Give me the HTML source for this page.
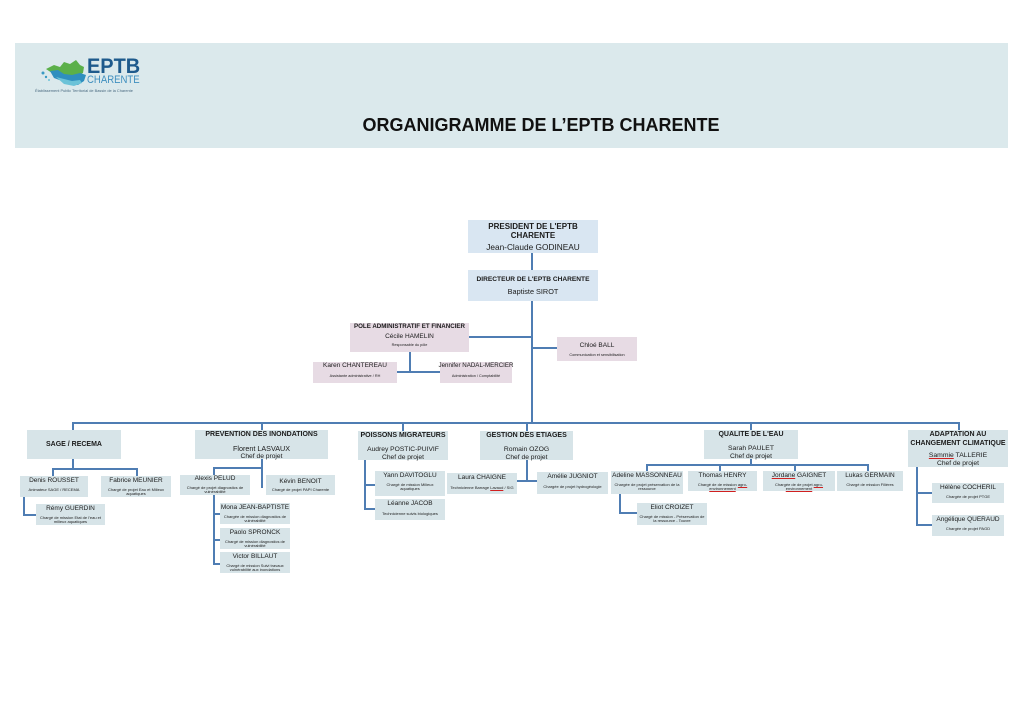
<!DOCTYPE html>
<html><head><meta charset="utf-8">
<style>
*{margin:0;padding:0}
body{width:1024px;height:724px;background:#fff;position:relative;overflow:hidden;font-family:"Liberation Sans",sans-serif;color:#1b1b1b}
.hdr{position:absolute;left:15px;top:43px;width:993px;height:105px;background:#dbe9ec}
.bx{position:absolute;background:#d7e4e8;text-align:center;box-sizing:border-box;display:flex;flex-direction:column;align-items:center}
.bl{background:#d9e6f2}
.pk{background:#e7dbe4}
.t{font-weight:bold;white-space:nowrap}
.lt{font-weight:bold;font-size:7px;line-height:10px;white-space:nowrap}
.ln{font-size:7.2px;line-height:9px;margin-top:4px;white-space:nowrap}
.lc{font-size:6.7px;line-height:7px;white-space:nowrap}
.sb{padding-top:1px}
.sn{font-size:6.5px;line-height:8px;white-space:nowrap}
.sd{font-size:4px;line-height:4.4px;margin-top:2.5px;padding:0 2px}
.u{text-decoration:underline;text-decoration-color:#d02020}
</style></head><body>
<div class="hdr"></div>
<svg style="position:absolute;left:0;top:0" width="1024" height="724">
 <!-- logo blob -->
 <g transform="translate(4,7)">
 <path d="M42,62 L50,58 L56,60 L60,55 L66,57 L72,53 L76,58 L80,60 L79,66 L75,68 L70,70 L62,70 L55,67 L48,66 Z" fill="#5bb04a"/>
 <path d="M46,64 L54,63 L60,67 L68,68 L76,66 L82,68 L80,74 L74,78 L66,77 L58,74 L50,71 Z" fill="#2f8fbf"/>
 <path d="M52,70 L60,72 L68,74 L76,73 L78,76 L70,79 L60,77 Z" fill="#6cc3d8"/>
 <circle cx="39" cy="66" r="1.5" fill="#3a9ac4"/><circle cx="42" cy="70" r="1.2" fill="#3a9ac4"/><circle cx="45" cy="73" r="1" fill="#6cc3d8"/>
 </g>
 <g stroke="#4f7db3" stroke-width="2" fill="none">
  <line x1="532" y1="253" x2="532" y2="270"/>
  <line x1="532" y1="301" x2="532" y2="423"/>
  <line x1="469" y1="337" x2="532" y2="337"/>
  <line x1="532" y1="348" x2="557" y2="348"/>
  <line x1="410" y1="352" x2="410" y2="372"/>
  <line x1="397" y1="372" x2="440" y2="372"/>
  <polyline points="73,430 73,423 959,423 959,430"/>
  <line x1="262" y1="423" x2="262" y2="430"/>
  <line x1="403" y1="423" x2="403" y2="431"/>
  <line x1="527" y1="423" x2="527" y2="431"/>
  <line x1="751" y1="423" x2="751" y2="430"/>
  <!-- SAGE -->
  <line x1="73" y1="459" x2="73" y2="469"/>
  <polyline points="53,476 53,469 137,469 137,476"/>
  <polyline points="24,497 24,515 36,515"/>
  <!-- PREVENTION -->
  <line x1="262" y1="459" x2="262" y2="488"/>
  <polyline points="214,475 214,468 262,468"/>
  <line x1="214" y1="495" x2="214" y2="565"/>
  <line x1="214" y1="514" x2="220" y2="514"/>
  <line x1="214" y1="540" x2="220" y2="540"/>
  <line x1="214" y1="564" x2="220" y2="564"/>
  <!-- POISSONS -->
  <polyline points="365,460 365,509 375,509"/>
  <line x1="365" y1="485" x2="375" y2="485"/>
  <!-- GESTION -->
  <line x1="527" y1="460" x2="527" y2="481"/>
  <line x1="517" y1="481" x2="537" y2="481"/>
  <!-- QUALITE -->
  <line x1="751" y1="459" x2="751" y2="465"/>
  <polyline points="647,471 647,465 868,465 868,471"/>
  <line x1="720" y1="465" x2="720" y2="471"/>
  <line x1="795" y1="465" x2="795" y2="471"/>
  <polyline points="620,494 620,513 637,513"/>
  <!-- ADAPT -->
  <polyline points="917,467 917,525 932,525"/>
  <line x1="917" y1="493" x2="932" y2="493"/>
 </g>
</svg>
<div style="position:absolute;left:87px;top:55px;font-weight:bold;font-size:21px;line-height:24px;color:#1e5a8c;transform:scaleX(0.95);transform-origin:0 0">EPTB</div>
<div style="position:absolute;left:87px;top:74px;font-size:11px;line-height:12px;color:#3f8fbf;transform:scaleX(0.87);transform-origin:0 0;white-space:nowrap">CHARENTE</div>
<div style="position:absolute;left:35px;top:88.5px;font-size:3.9px;line-height:4px;color:#4a6a80;white-space:nowrap">Établissement Public Territorial de Bassin de la Charente</div>
<div style="position:absolute;left:342px;top:116px;width:398px;text-align:center;font-weight:bold;font-size:18px;line-height:18px;color:#111;white-space:nowrap">ORGANIGRAMME DE L’EPTB CHARENTE</div>

<!-- top -->
<div class="bx bl" style="left:468px;top:220px;width:130px;height:33px;padding-top:2px">
 <div class="t" style="font-size:8px;line-height:9px">PRESIDENT DE L'EPTB<br>CHARENTE</div>
 <div style="font-size:8.3px;line-height:14px;white-space:nowrap">Jean-Claude GODINEAU</div>
</div>
<div class="bx bl" style="left:468px;top:270px;width:130px;height:31px;padding-top:5px">
 <div class="t" style="font-size:6.6px;line-height:10px">DIRECTEUR DE L'EPTB CHARENTE</div>
 <div style="font-size:7.3px;line-height:14px;white-space:nowrap">Baptiste SIROT</div>
</div>
<div class="bx pk" style="left:350px;top:323px;width:119px;height:29px">
 <div class="t" style="font-size:6.2px;line-height:8px">POLE ADMINISTRATIF ET FINANCIER</div>
 <div style="font-size:6.5px;line-height:10px;margin-top:1px;white-space:nowrap">Cécile HAMELIN</div>
 <div style="font-size:3.8px;line-height:6px;white-space:nowrap">Responsable du pôle</div>
</div>
<div class="bx pk" style="left:557px;top:337px;width:80px;height:24px;justify-content:center">
 <div style="font-size:6.5px;line-height:9px;white-space:nowrap">Chloé BALL</div>
 <div style="font-size:3.8px;line-height:5px;margin-top:3px;white-space:nowrap">Communication et sensibilisation</div>
</div>
<div class="bx pk" style="left:313px;top:362px;width:84px;height:21px">
 <div class="sn">Karen CHANTEREAU</div>
 <div style="font-size:3.8px;line-height:5px;margin-top:3.5px;white-space:nowrap">Assistante administrative / RH</div>
</div>
<div class="bx pk" style="left:440px;top:362px;width:72px;height:21px">
 <div class="sn" style="font-size:6.2px">Jennifer NADAL-MERCIER</div>
 <div style="font-size:3.8px;line-height:5px;margin-top:3.5px;white-space:nowrap">Administration / Comptabilité</div>
</div>

<!-- level 2 -->
<div class="bx" style="left:27px;top:430px;width:94px;height:29px;justify-content:center">
 <div class="lt">SAGE / RECEMA</div>
</div>
<div class="bx" style="left:195px;top:430px;width:133px;height:29px">
 <div class="lt">PREVENTION DES INONDATIONS</div>
 <div class="ln">Florent LASVAUX</div>
 <div class="lc">Chef de projet</div>
</div>
<div class="bx" style="left:358px;top:431px;width:90px;height:29px">
 <div class="lt">POISSONS MIGRATEURS</div>
 <div class="ln" style="font-size:6.7px">Audrey POSTIC-PUIVIF</div>
 <div class="lc">Chef de projet</div>
</div>
<div class="bx" style="left:480px;top:431px;width:93px;height:29px">
 <div class="lt">GESTION DES ETIAGES</div>
 <div class="ln" style="font-size:6.8px">Romain OZOG</div>
 <div class="lc">Chef de projet</div>
</div>
<div class="bx" style="left:704px;top:430px;width:94px;height:29px">
 <div class="lt">QUALITE DE L'EAU</div>
 <div class="ln" style="font-size:6.8px">Sarah PAULET</div>
 <div class="lc">Chef de projet</div>
</div>
<div class="bx" style="left:908px;top:430px;width:100px;height:37px">
 <div class="lt" style="line-height:9px">ADAPTATION AU<br>CHANGEMENT CLIMATIQUE</div>
 <div class="ln" style="font-size:6.8px;line-height:8px"><span class="u">Sammie</span> TALLERIE</div>
 <div class="lc">Chef de projet</div>
</div>

<!-- SAGE subs -->
<div class="bx sb" style="left:20px;top:476px;width:68px;height:21px">
 <div class="sn">Denis ROUSSET</div><div class="sd">Animateur SAGE / RECEMA</div>
</div>
<div class="bx sb" style="left:101px;top:476px;width:70px;height:21px">
 <div class="sn">Fabrice MEUNIER</div><div class="sd">Chargé de projet Eau et Milieux aquatiques</div>
</div>
<div class="bx sb" style="left:36px;top:504px;width:69px;height:21px">
 <div class="sn">Rémy GUERDIN</div><div class="sd">Chargé de mission Etat de l'eau et milieux aquatiques</div>
</div>

<!-- PREVENTION subs -->
<div class="bx" style="left:180px;top:475px;width:70px;height:20px">
 <div class="sn">Alexis PELUD</div><div class="sd">Chargé de projet diagnostics de vulnérabilité</div>
</div>
<div class="bx" style="left:266px;top:475px;width:69px;height:20px;justify-content:center">
 <div class="sn">Kévin BENOIT</div><div class="sd">Chargé de projet PAPI Charente</div>
</div>
<div class="bx sb" style="left:220px;top:503px;width:70px;height:21px">
 <div class="sn">Mona JEAN-BAPTISTE</div><div class="sd">Chargée de mission diagnostics de vulnérabilité</div>
</div>
<div class="bx sb" style="left:220px;top:528px;width:70px;height:21px">
 <div class="sn">Paolo SPRONCK</div><div class="sd">Chargé de mission diagnostics de vulnérabilité</div>
</div>
<div class="bx sb" style="left:220px;top:552px;width:70px;height:21px">
 <div class="sn">Victor BILLAUT</div><div class="sd">Chargé de mission Suivi travaux vulnérabilité aux inondations</div>
</div>

<!-- POISSONS subs -->
<div class="bx sb" style="left:375px;top:471px;width:70px;height:25px">
 <div class="sn">Yann DAVITOGLU</div><div class="sd">Chargé de mission Milieux aquatiques</div>
</div>
<div class="bx sb" style="left:375px;top:499px;width:70px;height:21px">
 <div class="sn">Léanne JACOB</div><div class="sd" style="margin-top:3.5px">Technicienne suivis biologiques</div>
</div>

<!-- GESTION subs -->
<div class="bx sb" style="left:447px;top:473px;width:70px;height:21px">
 <div class="sn">Laura CHAIGNE</div><div class="sd" style="margin-top:3.5px;white-space:nowrap">Technicienne Barrage <span class="u">Lavaud</span> / SIG</div>
</div>
<div class="bx sb" style="left:537px;top:472px;width:71px;height:22px">
 <div class="sn">Amélie JUGNIOT</div><div class="sd" style="margin-top:3.5px;white-space:nowrap">Chargée de projet hydrogéologie</div>
</div>

<!-- QUALITE subs -->
<div class="bx sb" style="left:611px;top:471px;width:72px;height:23px">
 <div class="sn">Adeline MASSONNEAU</div><div class="sd">Chargée de projet préservation de la ressource</div>
</div>
<div class="bx sb" style="left:688px;top:471px;width:69px;height:20px">
 <div class="sn">Thomas HENRY</div><div class="sd">Chargé de de mission <span class="u">agro-environnement</span></div>
</div>
<div class="bx sb" style="left:763px;top:471px;width:72px;height:20px">
 <div class="sn"><span class="u">Jordane</span> GAIGNET</div><div class="sd">Chargée de de projet <span class="u">agro-environnement</span></div>
</div>
<div class="bx sb" style="left:837px;top:471px;width:66px;height:20px">
 <div class="sn">Lukas GERMAIN</div><div class="sd" style="white-space:nowrap">Chargé de mission Filières</div>
</div>
<div class="bx sb" style="left:637px;top:503px;width:70px;height:22px">
 <div class="sn">Eliot CROIZET</div><div class="sd">Chargé de mission - Préservation de la ressource - Touvre</div>
</div>

<!-- ADAPT subs -->
<div class="bx sb" style="left:932px;top:483px;width:72px;height:20px">
 <div class="sn">Hélène COCHERIL</div><div class="sd" style="white-space:nowrap">Chargée de projet PTGE</div>
</div>
<div class="bx sb" style="left:932px;top:515px;width:72px;height:21px">
 <div class="sn">Angélique QUERAUD</div><div class="sd" style="white-space:nowrap">Chargée de projet PAGD</div>
</div>
</body></html>
